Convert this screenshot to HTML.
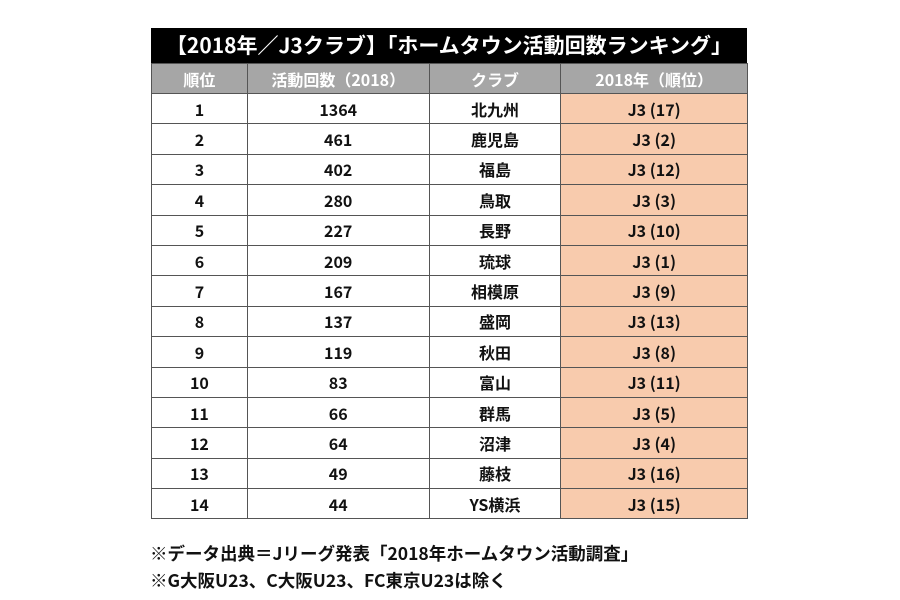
<!DOCTYPE html>
<html><head><meta charset="utf-8"><style>
body{margin:0;width:900px;height:600px;background:#fff;font-family:"Noto Sans CJK JP","Liberation Sans",sans-serif;font-weight:bold;position:relative;overflow:hidden}
.title{position:absolute;left:151px;top:28px;width:596px;height:35px;background:#000;color:#fff;font-size:21px;line-height:35px;text-align:center;white-space:nowrap}
table{position:absolute;left:151px;top:63px;border-collapse:collapse;width:597px}
td{border:1px solid #555;height:29.4px;padding:0;text-align:center;vertical-align:middle;font-size:16px;line-height:20px;color:#111}
tr.h td{background:#a6a6a6;color:#fff;height:29px}
td.o{background:#f8cbad}
.note{position:absolute;left:150px;font-size:17.5px;line-height:20px;color:#111}
</style></head><body>
<div class="title">【2018年／J3クラブ】「ホームタウン活動回数ランキング」</div>
<table>
<colgroup><col style="width:96px"><col style="width:182px"><col style="width:132px"><col style="width:187px"></colgroup>
<tr class="h"><td>順位</td><td>活動回数（2018）</td><td>クラブ</td><td>2018年（順位）</td></tr>
<tr><td>1</td><td>1364</td><td>北九州</td><td class="o">J3 (17)</td></tr>
<tr><td>2</td><td>461</td><td>鹿児島</td><td class="o">J3 (2)</td></tr>
<tr><td>3</td><td>402</td><td>福島</td><td class="o">J3 (12)</td></tr>
<tr><td>4</td><td>280</td><td>鳥取</td><td class="o">J3 (3)</td></tr>
<tr><td>5</td><td>227</td><td>長野</td><td class="o">J3 (10)</td></tr>
<tr><td>6</td><td>209</td><td>琉球</td><td class="o">J3 (1)</td></tr>
<tr><td>7</td><td>167</td><td>相模原</td><td class="o">J3 (9)</td></tr>
<tr><td>8</td><td>137</td><td>盛岡</td><td class="o">J3 (13)</td></tr>
<tr><td>9</td><td>119</td><td>秋田</td><td class="o">J3 (8)</td></tr>
<tr><td>10</td><td>83</td><td>富山</td><td class="o">J3 (11)</td></tr>
<tr><td>11</td><td>66</td><td>群馬</td><td class="o">J3 (5)</td></tr>
<tr><td>12</td><td>64</td><td>沼津</td><td class="o">J3 (4)</td></tr>
<tr><td>13</td><td>49</td><td>藤枝</td><td class="o">J3 (16)</td></tr>
<tr><td>14</td><td>44</td><td>YS横浜</td><td class="o">J3 (15)</td></tr>
</table>
<div class="note" style="top:544px">※データ出典＝Jリーグ発表「2018年ホームタウン活動調査」</div>
<div class="note" style="top:571px">※G大阪U23、C大阪U23、FC東京U23は除く</div>
</body></html>
